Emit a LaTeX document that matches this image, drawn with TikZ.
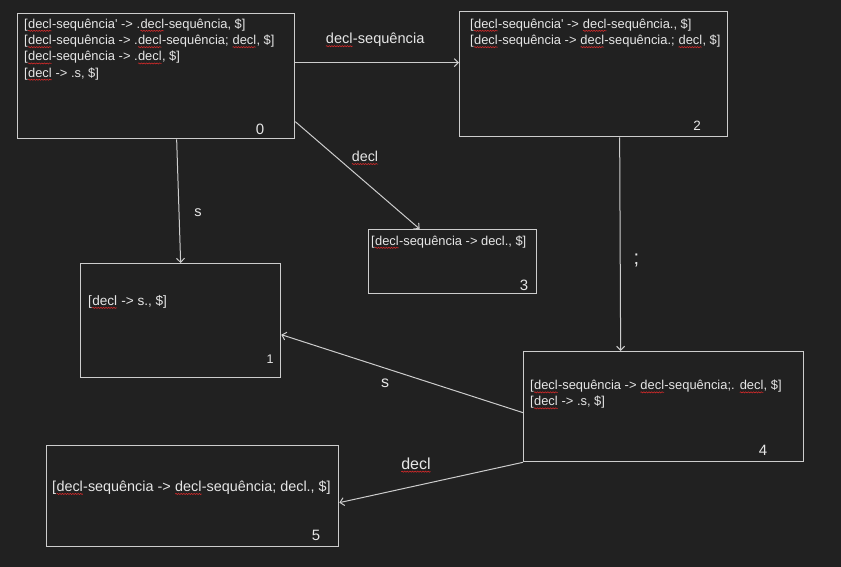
\documentclass[tikz,border=0pt]{standalone}
\usepackage{fontspec}
\setmainfont{Liberation Sans}
\usetikzlibrary{arrows.meta,decorations.pathmorphing}

\definecolor{bgdark}{HTML}{212121}
\definecolor{boxline}{HTML}{CDCDCD}
\definecolor{txtlight}{HTML}{E6E6E6}
\definecolor{squig}{HTML}{D42A2A}

% red wavy mark under a word
\newcommand{\sq}[1]{\tikz[baseline=(w.base)]{\node[inner sep=0pt,outer sep=0pt,anchor=base,text=txtlight] (w) {#1};
  \draw[squig,line width=0.6pt,decorate,decoration={snake,amplitude=0.55pt,segment length=2.6pt}] ([yshift=-2.6pt]w.base west) -- ([yshift=-2.6pt]w.base east);}}

\begin{document}
\begin{tikzpicture}[x=1pt,y=-1pt,
    itemset/.style={draw=boxline,line width=1.3pt,anchor=north west,inner sep=0pt},
    items/.style={text=txtlight,anchor=north west,inner sep=0pt,align=left,font=\fontsize{12.9}{16.3}\selectfont},
    num/.style={text=txtlight,inner sep=0pt,font=\fontsize{15}{18}\selectfont},
    lbl/.style={text=txtlight,inner sep=0pt,font=\fontsize{14.6}{17}\selectfont},
    trans/.style={draw=boxline,line width=1pt,-{Straight Barb[length=4pt,width=8pt]}}]

    % Background
    \fill[bgdark] (0,0) rectangle (841,567);
    \useasboundingbox (0,0) rectangle (841,567);

    % Item set boxes
    \node[itemset,minimum width=277,minimum height=125] (b0) at (17,13) {};
    \node[itemset,minimum width=268,minimum height=125] (b2) at (459,11) {};
    \node[itemset,minimum width=168,minimum height=64] (b3) at (368,229) {};
    \node[itemset,minimum width=200,minimum height=114] (b1) at (80,263) {};
    \node[itemset,minimum width=280,minimum height=110] (b4) at (523,351) {};
    \node[itemset,minimum width=292,minimum height=101] (b5) at (46,445) {};

    % Items inside the boxes
    \node[items] (t0) at (24,18.5) {[\sq{decl}-sequência\textquotesingle{} -> .\sq{decl}-sequência, \$]\\
        {[}\sq{decl}-sequência -> .\sq{decl}-sequência; \sq{decl}, \$]\\
        {[}\sq{decl}-sequência -> .\sq{decl}, \$]\\
        {[}\sq{decl} -> .s, \$]};
    \node[items] (t2) at (470,18.5) {[\sq{decl}-sequência\textquotesingle{} -> \sq{decl}-sequência., \$]\\
        {[}\sq{decl}-sequência -> \sq{decl}-sequência.; \sq{decl}, \$]};
    \node[items] (t3) at (371,235.5) {[\sq{decl}-sequência -> decl., \$]};
    \node[items,font=\fontsize{13.6}{16}\selectfont] (t1) at (88,295) {[\sq{decl} -> s., \$]};
    \node[items,font=\fontsize{12.9}{16}\selectfont] (t4) at (530,380) {[\sq{decl}-sequência -> \sq{decl}-sequência;. \sq{decl}, \$]\\
        {[}\sq{decl} -> .s, \$]};
    \node[items,font=\fontsize{14.4}{17}\selectfont] (t5) at (52,480.5) {[\sq{decl}-sequência -> \sq{decl}-sequência; decl., \$]};

    % State numbers
    \node[num] (n0) at (260,129.5) {0};
    \node[num,font=\fontsize{13.5}{16}\selectfont] (n2) at (697,126) {2};
    \node[num] (n3) at (524,285.5) {3};
    \node[num,font=\fontsize{12.5}{15}\selectfont] (n1) at (270,359.5) {1};
    \node[num] (n4) at (763,450) {4};
    \node[num] (n5) at (316,535) {5};

    % Transitions
    \draw[trans] ([yshift=13.5]b0.east) -- ([yshift=11.5]b2.west);
    \draw[trans] ([yshift=-45.5]b0.east) -- ([xshift=-33]b3.north);
    \draw[trans] ([xshift=20.5]b0.south) -- (b1.north);
    \draw[trans] ([xshift=26]b2.south) -- ([xshift=-43]b4.north);
    \draw[trans] ([yshift=-6]b4.west) -- ([yshift=-14]b1.east);
    \draw[trans] (b4.south west) -- ([yshift=-6.5]b5.east);

    % Transition labels
    \node[lbl] (l02) at (375,40) {\sq{decl}-sequência};
    \node[lbl,font=\fontsize{14.3}{17}\selectfont] (l03) at (365,158) {\sq{decl}};
    \node[lbl] (l01) at (198,213) {s};
    \node[lbl,font=\fontsize{20}{24}\selectfont] (l24) at (636.5,260) {;};
    \node[lbl,font=\fontsize{16}{19}\selectfont] (l41) at (385,383) {s};
    \node[lbl,font=\fontsize{16}{19}\selectfont] (l45) at (416,465) {\sq{decl}};

\end{tikzpicture}
\end{document}
